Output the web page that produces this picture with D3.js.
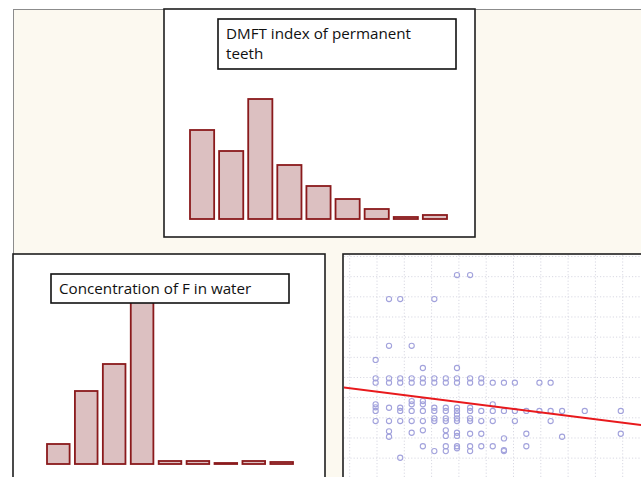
<html>
<head>
<style>
body { margin: 0; background: #fff; }
svg { display: block; }
.panel { fill: #fff; stroke: #1e1e1e; stroke-width: 1.6; }
.title-box { fill: #fff; stroke: #111; stroke-width: 1.6; }
.title { font-family: "Open Sans", sans-serif; font-size: 15.2px; fill: #111; }
.bar { fill: #dcc0c1; stroke: #8a1a1c; stroke-width: 1.8; }
.grid line { stroke: #d8d8e2; stroke-dasharray: 1.2,2; stroke-width: 1; }
.dot { fill: none; stroke: #a2a2dc; stroke-width: 1.1; }
.fit { stroke: #e8191c; stroke-width: 2; fill: none; }
</style>
</head>
<body>
<div id="chart"></div>
<script src="https://d3js.org/d3.v7.min.js"></script>
<script>

// histogram of DMFT index (counts per bin)
const dmftBins = ["0", "1", "2", "3", "4", "5", "6", "7", "8"];
const dmftCounts = [89, 68, 120, 54, 33, 20, 10, 2, 4];

// histogram of F concentration in water
const fluorBins = ["1", "2", "3", "4", "5", "6", "7", "8", "9"];
const fluorCounts = [20, 73, 100, 175, 3, 3, 1, 3, 2];

// scatter: x levels and the y values seen at each level
const scatterLevels = [0.95, 1.44, 1.85, 2.27, 2.68, 3.10, 3.52, 3.93, 4.41, 4.82,
	5.24, 5.65, 6.05, 6.47, 6.95, 7.36, 7.78, 8.61, 9.93];
const scatterValues = [
	[5.87, 4.96, 4.74, 3.67, 3.52, 3.34, 2.84],
	[8.89, 6.57, 4.96, 4.74, 3.50, 2.84, 2.33, 2.06],
	[8.89, 4.96, 4.74, 3.50, 3.34, 2.84, 1.02],
	[6.57, 4.96, 4.74, 3.83, 3.67, 3.34, 2.84, 2.26],
	[5.47, 4.96, 4.74, 3.83, 3.67, 3.34, 2.84, 2.38, 1.59],
	[8.89, 4.96, 4.74, 3.50, 3.34, 2.97, 2.84, 1.35],
	[4.96, 4.74, 3.50, 3.34, 2.97, 2.84, 2.38, 2.10, 1.59, 1.35],
	[10.08, 5.47, 4.96, 4.74, 3.50, 3.34, 3.17, 2.97, 2.84, 2.26, 2.10, 1.59, 1.49],
	[10.08, 4.96, 4.74, 3.50, 3.34, 2.97, 2.84, 2.21, 1.59, 1.35],
	[4.96, 4.74, 3.34, 2.84, 2.21, 1.59],
	[4.74, 3.67, 3.34, 2.84, 1.59],
	[4.74, 3.34, 1.98, 1.40, 1.35],
	[4.74, 3.34, 2.84],
	[3.34, 2.21, 1.59],
	[4.74, 3.34],
	[4.74, 3.34, 2.84],
	[3.34, 2.06],
	[3.34],
	[3.34, 2.21]
];

// fitted regression line (end points)
const fitX = [-0.25, 10.7];
const fitY = [4.51, 2.64];

const width = 641, height = 477;

const svg = d3.select('#chart').append('svg')
	.attr('width', width)
	.attr('height', height);

// cream backdrop
svg.append('rect')
	.attr('x', 13.5).attr('y', 9.5)
	.attr('width', 700).attr('height', 500)
	.attr('fill', '#fcf9f0')
	.attr('stroke', '#8c8c8c')
	.attr('stroke-width', 1);

// ---------- top histogram ----------
svg.append('rect').attr('class', 'panel')
	.attr('x', 164).attr('y', 9).attr('width', 311).attr('height', 228);

const xTop = d3.scaleBand().domain(dmftBins).range([190, 447]).paddingInner(0.17);
const yTop = d3.scaleLinear().domain([0, 120]).range([219, 99]);

svg.append('g').selectAll('rect')
	.data(dmftCounts)
	.join('rect')
	.attr('class', 'bar')
	.attr('x', (d, i) => xTop(dmftBins[i]))
	.attr('y', d => yTop(d))
	.attr('width', xTop.bandwidth())
	.attr('height', d => yTop(0) - yTop(d));

svg.append('rect').attr('class', 'title-box')
	.attr('x', 218).attr('y', 19).attr('width', 238).attr('height', 50);
svg.append('text').attr('class', 'title')
	.attr('x', 226).attr('y', 39).text('DMFT index of permanent');
svg.append('text').attr('class', 'title')
	.attr('x', 226).attr('y', 59).text('teeth');

// ---------- bottom-left histogram ----------
svg.append('rect').attr('class', 'panel')
	.attr('x', 13).attr('y', 254).attr('width', 312).attr('height', 260);

const xBot = d3.scaleBand().domain(fluorBins).range([47, 293]).paddingInner(0.19);
const yBot = d3.scaleLinear().domain([0, 100]).range([464, 364]);

svg.append('g').selectAll('rect')
	.data(fluorCounts)
	.join('rect')
	.attr('class', 'bar')
	.attr('x', (d, i) => xBot(fluorBins[i]))
	.attr('y', d => yBot(d))
	.attr('width', xBot.bandwidth())
	.attr('height', d => yBot(0) - yBot(d));

svg.append('rect').attr('class', 'title-box')
	.attr('x', 51).attr('y', 274).attr('width', 238).attr('height', 29);
svg.append('text').attr('class', 'title')
	.attr('x', 59).attr('y', 294).text('Concentration of F in water');

// ---------- scatter ----------
svg.append('rect').attr('class', 'panel')
	.attr('x', 343).attr('y', 254).attr('width', 320).attr('height', 260);

svg.append('clipPath').attr('id', 'sc-clip')
	.append('rect').attr('x', 344).attr('y', 255).attr('width', 320).attr('height', 260);

const xSc = d3.scaleLinear().domain([0, 11]).range([349.7, 650]);
const ySc = d3.scaleLinear().domain([0, 11]).range([478.3, 256.5]);

const sc = svg.append('g').attr('clip-path', 'url(#sc-clip)');

const grid = sc.append('g').attr('class', 'grid');
grid.selectAll('line.v')
	.data(xSc.ticks(11))
	.join('line')
	.attr('class', 'v')
	.attr('x1', d => xSc(d)).attr('x2', d => xSc(d))
	.attr('y1', 255).attr('y2', 480);
grid.selectAll('line.h')
	.data(ySc.ticks(11))
	.join('line')
	.attr('class', 'h')
	.attr('y1', d => ySc(d)).attr('y2', d => ySc(d))
	.attr('x1', 344).attr('x2', 660);

const points = scatterLevels.flatMap((x, i) => scatterValues[i].map(y => ({ x, y })));

sc.append('g').selectAll('circle')
	.data(points)
	.join('circle')
	.attr('class', 'dot')
	.attr('cx', d => xSc(d.x))
	.attr('cy', d => ySc(d.y))
	.attr('r', 2.6);

sc.append('line').attr('class', 'fit')
	.attr('x1', xSc(fitX[0])).attr('y1', ySc(fitY[0]))
	.attr('x2', xSc(fitX[1])).attr('y2', ySc(fitY[1]));

</script>
</body>
</html>
